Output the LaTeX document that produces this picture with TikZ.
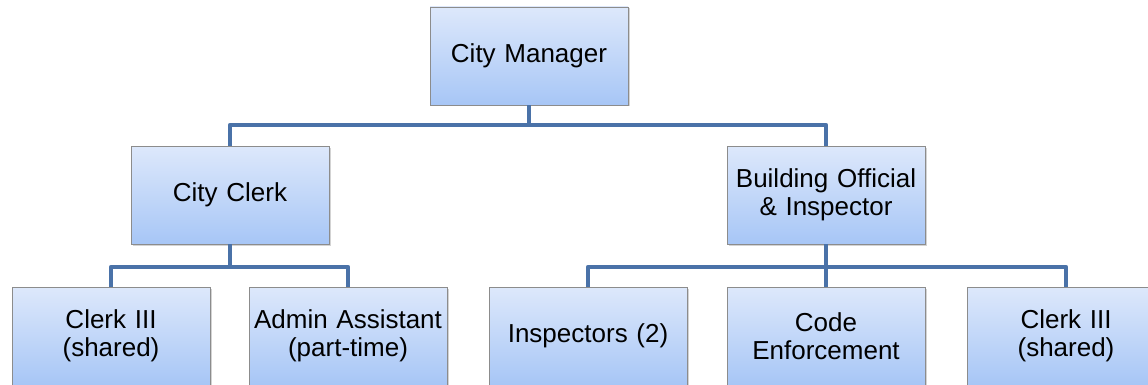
\documentclass[tikz,border=0pt]{standalone}
\usepackage{fontspec}
\setmainfont{Liberation Sans}
\usetikzlibrary{shadows}

\definecolor{boxtop}{HTML}{DDE8FB}
\definecolor{boxbot}{HTML}{A7C6F6}
\definecolor{boxline}{HTML}{8C8C8C}
\definecolor{linkblue}{HTML}{4A72A8}

\begin{document}
\begin{tikzpicture}[x=1pt,y=-1pt,
    post/.style={draw=boxline, line width=0.9pt, top color=boxtop, bottom color=boxbot,
        minimum width=198pt, minimum height=98pt, text width=196pt, align=center,
        inner sep=0pt, font=\fontsize{26}{28.5}\selectfont,
        drop shadow={shadow xshift=1.5pt, shadow yshift=-1.5pt, opacity=0.35}},
    link/.style={draw=linkblue, line width=4.5pt, line join=round}]
    \useasboundingbox (0,0) rectangle (1148,385);
    \clip (0,0) rectangle (1148,385);
    % top level
    \node[post] (manager) at (529,56) {City Manager};
    % second level
    \node[post] (clerk) at (230,195) {City Clerk};
    \node[post] (building) at (826,195) {Building Official\\ \& Inspector};
    % third level
    \node[post] (clerkA) at (111,336) {Clerk III\\ (shared)};
    \node[post] (admin) at (348,336) {Admin Assistant\\ (part-time)};
    \node[post] (inspectors) at (588,336) {Inspectors (2)};
    \node[post] (code) at (826,336) {Code\\ Enforcement};
    \node[post] (clerkB) at (1066,336) {Clerk III\\ (shared)};
    % bus lines
    \coordinate (busTop) at (529,125);
    \coordinate (busLeft) at (230,267);
    \coordinate (busRight) at (826,267);
    \draw[link] (manager.south) -- (busTop);
    \draw[link] (clerk.north) |- (busTop) -| (building.north);
    \draw[link] (clerk.south) -- (busLeft);
    \draw[link] (clerkA.north) |- (busLeft) -| (admin.north);
    \draw[link] (building.south) -- (busRight) -- (code.north);
    \draw[link] (inspectors.north) |- (busRight) -| (clerkB.north);
\end{tikzpicture}
\end{document}
